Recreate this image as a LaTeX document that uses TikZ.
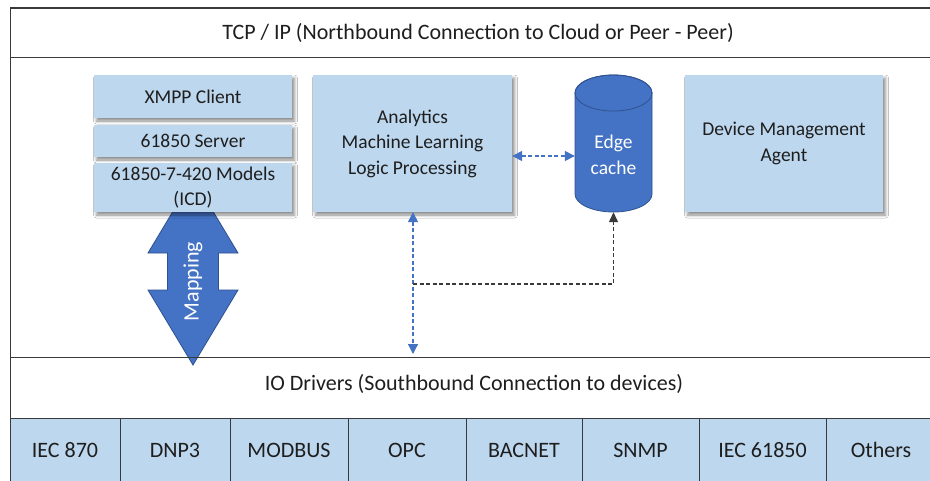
\documentclass[tikz,border=0pt]{standalone}
\usepackage{fontspec}
\setmainfont{Carlito}
\usetikzlibrary{shadows.blur,arrows.meta}
\definecolor{boxblue}{HTML}{BDD7EE}
\definecolor{midblue}{HTML}{4472C4}
\definecolor{edgeblue}{HTML}{2F528F}
\definecolor{framegray}{HTML}{3A3A3A}
\definecolor{txt}{HTML}{1E1E1E}
\begin{document}
\begin{tikzpicture}[x=1pt,y=-1pt,
  every node/.style={font=\fontsize{19.5}{25.5}\selectfont, text=txt},
  bandtitle/.style={font=\fontsize{22}{26}\selectfont},
  module/.style={rectangle, fill=boxblue, align=center, inner sep=0pt,
    blur shadow={shadow xshift=2.5pt, shadow yshift=-3pt,
      shadow blur radius=3pt, shadow opacity=45}},
  proto/.style={rectangle, fill=boxblue, draw=framegray, line width=0.8pt,
    inner sep=0pt, minimum height=64pt, font=\fontsize{22}{26}\selectfont},
  frameline/.style={draw=framegray, line width=1pt},
  bluelink/.style={draw=midblue, line width=1.3pt, dash pattern=on 4pt off 2.5pt,
    {Triangle[length=10pt,width=10pt]}-{Triangle[length=10pt,width=10pt]}},
  greylink/.style={draw=framegray, line width=1.3pt, dash pattern=on 4pt off 2.5pt,
    -{Triangle[length=10pt,width=9pt]}}
]
\useasboundingbox (0,0) rectangle (930,480);
\fill[white] (0,0) rectangle (930,480);

% northbound band title
\node[bandtitle] (tcp) at (478,33) {TCP / IP (Northbound Connection to Cloud or Peer - Peer)};

% mapping arrow, drawn first so the model stack covers its upper tip
\filldraw[fill=midblue, draw=edgeblue, line width=0.8pt]
  (193,178) -- (238,253) -- (218.5,253) -- (218.5,290) -- (238,290) -- (193,365)
  -- (148,290) -- (167.5,290) -- (167.5,253) -- (148,253) -- cycle;
\node[rotate=90, text=white, font=\fontsize{22}{26}\selectfont] (map) at (193,281.5) {Mapping};

% protocol stack
\node[module, minimum width=198pt, minimum height=43pt] (xmpp) at (193,96.5) {XMPP Client};
\node[module, minimum width=198pt, minimum height=32pt] (srv) at (193,141) {61850 Server};
\node[module, minimum width=198pt, minimum height=49pt] (icd) at (193,187.5)
  {61850-7-420 Models\\(ICD)};

% analytics and management boxes
\node[module, minimum width=199pt, minimum height=137pt] (ana) at (412.5,143.5)
  {Analytics\\Machine Learning\\Logic Processing};
\node[module, minimum width=198pt, minimum height=137pt] (dma) at (784,143.5)
  {Device Management\\Agent};

% edge cache drum: body with rounded bottom, then the top cap
% (y axis points down here, so 90 degrees is the lower side of an ellipse)
\filldraw[fill=midblue, draw=edgeblue, line width=0.8pt]
  (575,93) -- (575,194) arc[start angle=180, end angle=0, x radius=38.5, y radius=18]
  -- (652,93) arc[start angle=0, end angle=-180, x radius=38.5, y radius=18] -- cycle;
\draw[edgeblue, line width=0.8pt] (613.5,93) ellipse[x radius=38.5, y radius=18];
\node[minimum width=77pt, minimum height=114pt, inner sep=0pt, align=center,
  text=white] (cyl) at (613.5,155) {Edge\\cache};

% frame lines
\draw[frameline, line width=2pt] (10,8) -- (931,8);
\draw[frameline] (10,8) -- (10,481);
\draw[frameline] (10,57) -- (931,57);
\draw[frameline] (10,357) -- (931,357);
\draw[frameline] (10,418) -- (931,418);

% southbound band title
\node[bandtitle] (io) at (474,384) {IO Drivers (Southbound Connection to devices)};

% protocol cells
\node[proto, minimum width=110pt] (p1) at (65,450) {IEC 870};
\node[proto, minimum width=110pt] (p2) at (175,450) {DNP3};
\node[proto, minimum width=118pt] (p3) at (289,450) {MODBUS};
\node[proto, minimum width=118pt] (p4) at (407,450) {OPC};
\node[proto, minimum width=116pt] (p5) at (524,450) {BACNET};
\node[proto, minimum width=117pt] (p6) at (640.5,450) {SNMP};
\node[proto, minimum width=127pt] (p7) at (762.5,450) {IEC 61850};
\node[proto, minimum width=110pt] (p8) at (881,450) {Others};

% data links
\coordinate (hy) at (0,156);
\coordinate (drv) at (413,354);
\coordinate (br) at (413,284);
\draw[bluelink] (ana.east |- hy) -- (cyl.west |- hy);
\draw[bluelink] (ana.south -| drv) -- (drv);
\draw[greylink] (br) -| (cyl.south);
\end{tikzpicture}
\end{document}
